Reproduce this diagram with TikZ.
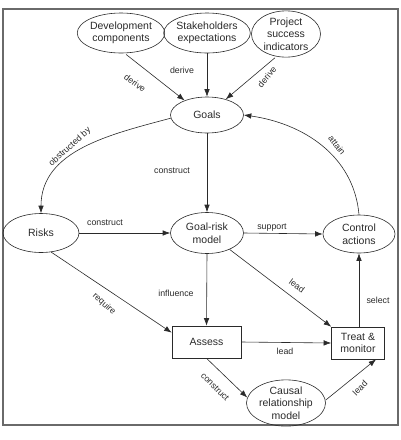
\documentclass[tikz,border=0pt]{standalone}
\usepackage{fontspec}
\setmainfont{Liberation Sans}
\usetikzlibrary{arrows.meta,shapes.geometric}
\definecolor{ink}{HTML}{2A2A2A}
\definecolor{framec}{HTML}{6A6A6A}
\begin{document}
\begin{tikzpicture}[x=1pt,y=-1pt,
  every node/.style={text=ink},
  ell/.style={ellipse,draw=ink,line width=0.6pt,inner sep=0pt,align=center,
    font=\fontsize{10.5}{12.5}\selectfont},
  boxn/.style={rectangle,draw=ink,line width=0.6pt,inner sep=0pt,align=center,
    font=\fontsize{10.5}{12.5}\selectfont},
  conn/.style={draw=ink,line width=0.6pt,-{Latex[length=7.5pt,width=5.5pt]}},
  lab/.style={font=\fontsize{8.8}{10}\selectfont,inner sep=0pt}]
\useasboundingbox (0,0) rectangle (401,440);
\draw[framec,line width=1.6pt] (3,9) rectangle (398,425);

\node[ell,minimum width=71pt,minimum height=40pt] (dev) at (121,33) {Development\\components};
\node[ell,minimum width=71pt,minimum height=40pt] (stk) at (207,33) {Stakeholders\\expectations};
\node[ell,minimum width=69pt,minimum height=38pt] (prj) at (286,34) {Project\\success\\indicators};
\node[ell,minimum width=73pt,minimum height=36pt] (goals) at (207,115) {Goals};
\node[ell,minimum width=76pt,minimum height=39pt] (risks) at (41,233) {Risks};
\node[ell,minimum width=73pt,minimum height=41pt] (grm) at (207,233) {Goal-risk\\model};
\node[ell,minimum width=72pt,minimum height=38pt] (ctrl) at (359,234) {Control\\actions};
\node[boxn,minimum width=69pt,minimum height=32pt] (assess) at (206.5,342) {Assess};
\node[boxn,minimum width=53pt,minimum height=32pt] (treat) at (358,343) {Treat \&\\monitor};
\node[ell,minimum width=79pt,minimum height=37pt] (causal) at (286,403) {Causal\\relationship\\model};

\draw[conn,shorten <=2pt] (dev.-80) -- (goals.147);
\draw[conn] (stk.south) -- (goals.north);
\draw[conn,shorten <=2pt] (prj.-113) -- (goals.40);
\draw[conn] (goals.north) ++(0,0) (goals.south) -- (grm.north);
\draw[conn] (goals.185) to[out=195,in=90] (risks.north);
\draw[conn] (ctrl.north) to[out=95,in=-8] (goals.east);
\draw[conn] (risks.east) -- (grm.west);
\draw[conn] (grm.east) -- (ctrl.west);
\draw[conn] (grm.-36) -- (treat.north west);
\draw[conn] (grm.south) -- (assess.north);
\draw[conn] (risks.-62) -- (assess.165);
\draw[conn] (treat.north -| ctrl.south) -- (ctrl.south);
\draw[conn] (assess.east) -- (treat.west);
\draw[conn] (assess.south) -- (causal.172);
\draw[conn] (causal.4) -- (treat.-42);

\node[lab,rotate=-36] (l1) at (135,83) {derive};
\node[lab] (l2) at (182,70) {derive};
\node[lab,rotate=50] (l3) at (267,77) {derive};
\node[lab,rotate=42] (l4) at (70,147) {obstructed by};
\node[lab] (l5) at (172,171) {construct};
\node[lab,rotate=-52] (l6) at (337,145) {attain};
\node[lab] (l7) at (105,223) {construct};
\node[lab] (l8) at (272,228) {support};
\node[lab,rotate=-36] (l9) at (297,286) {lead};
\node[lab] (l10) at (176,293) {influence};
\node[lab,rotate=-42] (l11) at (104,304) {require};
\node[lab] (l12) at (378,300) {select};
\node[lab] (l13) at (285,351) {lead};
\node[lab,rotate=-45] (l14) at (215,387) {construct};
\node[lab,rotate=45] (l15) at (360,388) {lead};
\end{tikzpicture}
\end{document}
